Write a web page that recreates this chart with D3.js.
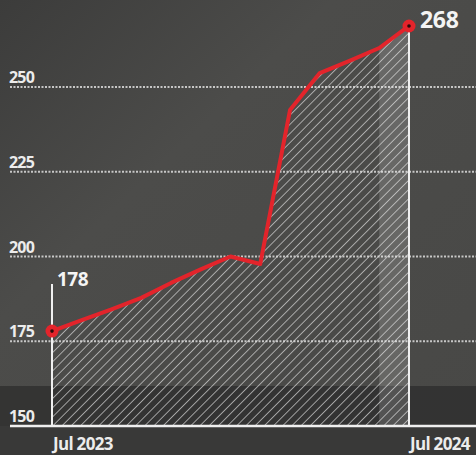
<!DOCTYPE html>
<html><head><meta charset="utf-8">
<script src="https://cdn.jsdelivr.net/npm/d3@7"></script>
<style>
html,body{margin:0;padding:0;background:#4b4b49;}
svg{display:block;}
</style></head>
<body>
<svg id="c" width="476" height="455"></svg>
<script>
const months = ["Jul 2023","Aug 2023","Sep 2023","Oct 2023","Nov 2023","Dec 2023","Jan 2024","Feb 2024","Mar 2024","Apr 2024","May 2024","Jun 2024","Jul 2024"];
const values = [178, 181.2, 184.4, 187.8, 192.2, 196.2, 200, 197.8, 243.2, 254.1, 257.7, 261.5, 268];
const yTicks = [150, 175, 200, 225, 250];
const xTickLabels = ["Jul 2023", "Jul 2024"];

const W = 476, H = 455;
const svg = d3.select("#c");
const x = d3.scalePoint().domain(months).range([52, 409]);
const y = d3.scaleLinear().domain([150, 250]).range([426, 87]);

const defs = svg.append("defs");
const bg = defs.append("linearGradient").attr("id","bg").attr("x1",0).attr("y1",0).attr("x2",1).attr("y2",1);
bg.append("stop").attr("offset","0").attr("stop-color","#3c3c3b");
bg.append("stop").attr("offset","0.35").attr("stop-color","#4c4c4a");
bg.append("stop").attr("offset","1").attr("stop-color","#484846");
svg.append("rect").attr("width",W).attr("height",H).attr("fill","url(#bg)");
// darker band near bottom
svg.append("rect").attr("x",0).attr("y",386).attr("width",W).attr("height",40).attr("fill","#2c2c2c").attr("opacity",0.75);
svg.append("rect").attr("x",0).attr("y",426).attr("width",W).attr("height",H-426).attr("fill","#393938");

const pat = defs.append("pattern").attr("id","hatch").attr("patternUnits","userSpaceOnUse")
  .attr("width",6.5).attr("height",6.5).attr("patternTransform","rotate(45)");
pat.append("line").attr("x1",0).attr("y1",0).attr("x2",0).attr("y2",6.5)
  .attr("stroke","#dcdcdc").attr("stroke-width",1.6).attr("stroke-opacity",0.8);

const data = months.map((m,i)=>({m, v: values[i]}));
const area = d3.area().x(d=>x(d.m)).y0(y(150)).y1(d=>y(d.v));
const line = d3.line().x(d=>x(d.m)).y(d=>y(d.v));

defs.append("clipPath").attr("id","ac").append("path").attr("d", area(data));

// gridlines
const g = svg.append("g");
yTicks.forEach(t=>{
  if (t === 150) return;
  g.append("line").attr("x1",10).attr("x2",W).attr("y1",y(t)).attr("y2",y(t))
    .attr("stroke","#dedede").attr("stroke-width",2).attr("stroke-dasharray","2,1.5").attr("opacity",0.85);
});

// area with hatch
svg.append("path").attr("d", area(data)).attr("fill","url(#hatch)");
// lighter last segment band
svg.append("rect").attr("clip-path","url(#ac)")
  .attr("x", x(months[11])).attr("y", 0).attr("width", x(months[12]) - x(months[11])).attr("height", 426)
  .attr("fill","#ffffff").attr("opacity",0.16);

// vertical lines
svg.append("line").attr("x1",x(months[0])).attr("x2",x(months[0])).attr("y1",284).attr("y2",426)
  .attr("stroke","#f0f0f0").attr("stroke-width",2);
svg.append("line").attr("x1",x(months[12])).attr("x2",x(months[12])).attr("y1",y(values[12])).attr("y2",426)
  .attr("stroke","#f0f0f0").attr("stroke-width",2);

// baseline
svg.append("line").attr("x1",10).attr("x2",W).attr("y1",y(150)).attr("y2",y(150))
  .attr("stroke","#efefef").attr("stroke-width",2.4);

// y tick labels
svg.append("g").selectAll("text").data(yTicks).join("text")
  .attr("x",9).attr("y",d=>y(d)-4).text(d=>d)
  .attr("fill","#ececec").attr("font-family","Open Sans, sans-serif").attr("font-size",16).attr("font-weight",700)
  .attr("letter-spacing","-0.8");

// x tick labels
svg.append("g").selectAll("text").data(xTickLabels).join("text")
  .attr("x",d=>x(d)+1).attr("y",450).text(d=>d)
  .attr("fill","#ececec").attr("font-family","Open Sans, sans-serif").attr("font-size",17).attr("font-weight",700)
  .attr("letter-spacing","-0.7");

// red line
svg.append("path").attr("d", line(data)).attr("fill","none")
  .attr("stroke","#e3242b").attr("stroke-width",4).attr("stroke-linejoin","round");

// end points
[0,12].forEach(i=>{
  svg.append("circle").attr("cx",x(months[i])).attr("cy",y(values[i])).attr("r",6.5).attr("fill","#e3242b");
  svg.append("circle").attr("cx",x(months[i])).attr("cy",y(values[i])).attr("r",1.8).attr("fill","#2a0a0a");
});

// value labels
svg.append("text").attr("x",x(months[0])+5).attr("y",286).text(values[0])
  .attr("fill","#f4f4f4").attr("font-family","Open Sans, sans-serif").attr("font-size",19).attr("font-weight",700)
  .attr("letter-spacing","-0.5");
svg.append("text").attr("x",x(months[12])+11).attr("y",28).text(values[12])
  .attr("fill","#f4f4f4").attr("font-family","Open Sans, sans-serif").attr("font-size",23).attr("font-weight",700)
  .attr("letter-spacing","-0.3");
</script>
</body></html>
